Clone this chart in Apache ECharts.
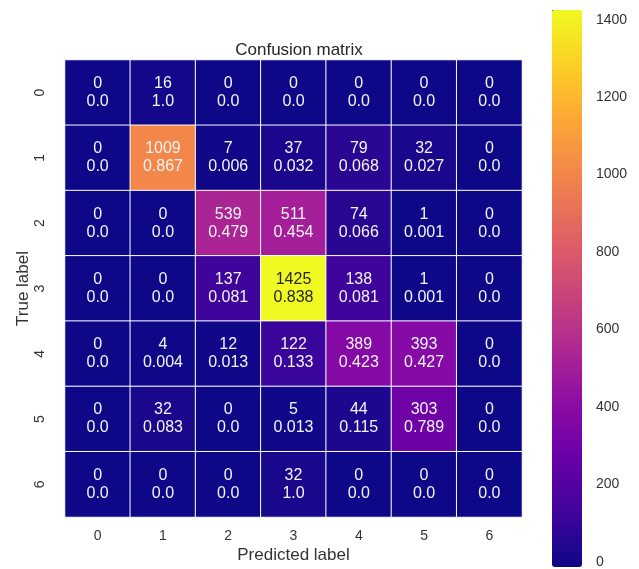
<!DOCTYPE html>
<html lang="en">
<head>
    <meta charset="UTF-8">
    <title>Confusion matrix</title>
    <script src="https://cdn.jsdelivr.net/npm/echarts@6/dist/echarts.min.js"></script>
    <style>
        html, body, #chart {
            width: 639px;
            height: 569px;
            padding: 0;
            margin: 0;
            background: #fff;
        }
    </style>
</head>
<body>
<div id="chart"></div>
<script>
    var labels = ["0", "1", "2", "3", "4", "5", "6"];

    // counts, one row per true label
    var counts = [
        [0, 16, 0, 0, 0, 0, 0],
        [0, 1009, 7, 37, 79, 32, 0],
        [0, 0, 539, 511, 74, 1, 0],
        [0, 0, 137, 1425, 138, 1, 0],
        [0, 4, 12, 122, 389, 393, 0],
        [0, 32, 0, 5, 44, 303, 0],
        [0, 0, 0, 32, 0, 0, 0]
    ];

    // row-normalised values as printed in the cells
    var ratios = [
        ["0.0", "1.0", "0.0", "0.0", "0.0", "0.0", "0.0"],
        ["0.0", "0.867", "0.006", "0.032", "0.068", "0.027", "0.0"],
        ["0.0", "0.0", "0.479", "0.454", "0.066", "0.001", "0.0"],
        ["0.0", "0.0", "0.081", "0.838", "0.081", "0.001", "0.0"],
        ["0.0", "0.004", "0.013", "0.133", "0.423", "0.427", "0.0"],
        ["0.0", "0.083", "0.0", "0.013", "0.115", "0.789", "0.0"],
        ["0.0", "0.0", "0.0", "1.0", "0.0", "0.0", "0.0"]
    ];

    var colorTicks = [0, 200, 400, 600, 800, 1000, 1200, 1400];
    var vmax = 1425;

    var plasma = ["#0d0887", "#41049d", "#6a00a8", "#8f0da4", "#b12a90", "#cc4778",
        "#e16462", "#f2844b", "#fca636", "#fcce25", "#f0f921"];

    var data = [];
    counts.forEach(function (row, i) {
        row.forEach(function (v, j) {
            data.push({
                value: [j, i, v],
                label: {color: v > 1200 ? "#262626" : "#f4f4f4"}
            });
        });
    });

    var font = "'Liberation Sans', Arial, sans-serif";
    var chart = echarts.init(document.getElementById("chart"));
    chart.setOption({
        animation: false,
        textStyle: {fontFamily: font},
        title: {
            text: "Confusion matrix",
            left: 294,
            top: 37,
            textAlign: "center",
            textStyle: {fontSize: 17, fontWeight: "normal", color: "#262626", fontFamily: font}
        },
        grid: [
            {left: 65, top: 60, width: 457, height: 458},
            {left: 552, top: 10, width: 30, height: 557}
        ],
        xAxis: [{
            type: "category",
            data: labels,
            gridIndex: 0,
            position: "bottom",
            name: "Predicted label",
            nameLocation: "middle",
            nameGap: 30,
            nameMoveOverlap: false,
            nameTextStyle: {fontSize: 17, color: "#333333"},
            axisLine: {show: false},
            axisTick: {show: false},
            splitLine: {show: false},
            axisLabel: {fontSize: 14, color: "#333333", margin: 12}
        }, {
            type: "value",
            gridIndex: 1,
            show: false
        }],
        yAxis: [{
            type: "category",
            data: labels,
            gridIndex: 0,
            inverse: true,
            name: "True label",
            nameLocation: "middle",
            nameGap: 33,
            nameMoveOverlap: false,
            nameRotate: 90,
            nameTextStyle: {fontSize: 17, color: "#333333"},
            axisLine: {show: false},
            axisTick: {show: false},
            splitLine: {show: false},
            axisLabel: {fontSize: 14, color: "#333333", rotate: 90, margin: 18}
        }, {
            type: "value",
            gridIndex: 1,
            position: "right",
            min: 0,
            max: vmax,
            interval: 200,
            axisLine: {show: false},
            axisTick: {show: true, length: 5, lineStyle: {color: "#555555"}},
            splitLine: {show: false},
            axisLabel: {
                fontSize: 14, color: "#333333", margin: 14,
                formatter: function (v) {
                    return colorTicks.indexOf(v) >= 0 ? String(v) : "";
                }
            }
        }],
        visualMap: {
            type: "continuous",
            min: 0,
            max: vmax,
            seriesIndex: 0,
            calculable: false,
            hoverLink: false,
            left: 552,
            top: 10,
            padding: 0,
            itemWidth: 30,
            itemHeight: 557,
            text: ["", ""],
            showLabel: false,
            inRange: {color: plasma}
        },
        series: [{
            type: "heatmap",
            xAxisIndex: 0,
            yAxisIndex: 0,
            data: data,
            itemStyle: {borderColor: "#ffffff", borderWidth: 1},
            label: {
                show: true,
                fontSize: 16,
                lineHeight: 18,
                fontFamily: font,
                formatter: function (p) {
                    return p.value[2] + "\n" + ratios[p.value[1]][p.value[0]];
                }
            },
            emphasis: {disabled: true}
        }]
    });
</script>
</body>
</html>
